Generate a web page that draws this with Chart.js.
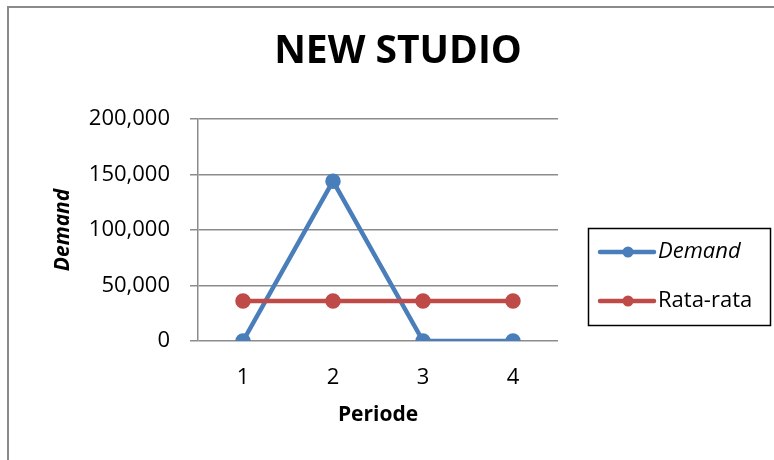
<!DOCTYPE html>
<html>
<head>
<meta charset="utf-8">
<script src="https://cdn.jsdelivr.net/npm/chart.js@4/dist/chart.umd.min.js"></script>
<style>
  html, body { margin: 0; padding: 0; background: #fff; }
  #wrap { width: 774px; height: 460px; position: relative; }
</style>
</head>
<body>
<div id="wrap"><canvas id="c" width="774" height="460"></canvas></div>
<script>
const categories = ['1', '2', '3', '4'];
const demandValues = [0, 144000, 0, 0];
const rataRataValues = [36000, 36000, 36000, 36000];
const seriesNames = ['Demand', 'Rata-rata'];
const chartTitle = 'NEW STUDIO';
const xTitle = 'Periode';
const yTitle = 'Demand';

const FONT = "'Open Sans', 'Liberation Sans', sans-serif";
const BLUE = '#4a7ebb';
const RED = '#be4b48';

const frameAndLegend = {
  id: 'frameAndLegend',
  afterDraw(chart) {
    const ctx = chart.ctx;
    ctx.save();
    // outer chart border
    ctx.strokeStyle = '#8a8a8a';
    ctx.lineWidth = 2;
    ctx.strokeRect(8, 7, 800, 500);
    // chart title
    ctx.fillStyle = '#000';
    ctx.font = 'bold 39px ' + FONT;
    ctx.textAlign = 'center';
    ctx.textBaseline = 'middle';
    ctx.fillText(chartTitle, 398, 52);
    // legend box
    ctx.strokeStyle = '#000';
    ctx.lineWidth = 1.5;
    ctx.strokeRect(588.5, 228.5, 182, 97);
    const rows = [252, 301];
    chart.data.datasets.forEach((ds, i) => {
      const y = rows[i];
      ctx.strokeStyle = ds.borderColor;
      ctx.lineWidth = 4.5;
      ctx.lineCap = 'round';
      ctx.beginPath();
      ctx.moveTo(600, y);
      ctx.lineTo(654, y);
      ctx.stroke();
      ctx.fillStyle = ds.borderColor;
      ctx.beginPath();
      ctx.arc(628, y, 5.5, 0, Math.PI * 2);
      ctx.fill();
      ctx.fillStyle = '#000';
      ctx.font = (i === 0 ? 'italic ' : '') + '22px ' + FONT;
      ctx.textBaseline = 'middle';
      ctx.textAlign = 'left';
      ctx.fillText(ds.label, 658, y);
    });
    ctx.restore();
  }
};

new Chart(document.getElementById('c'), {
  type: 'line',
  data: {
    labels: categories,
    datasets: [
      {
        label: seriesNames[0],
        data: demandValues,
        borderColor: BLUE,
        backgroundColor: BLUE,
        borderWidth: 4.5,
        pointRadius: 5.5,
        pointHoverRadius: 5.5,
        tension: 0,
        order: 1
      },
      {
        label: seriesNames[1],
        data: rataRataValues,
        borderColor: RED,
        backgroundColor: RED,
        borderWidth: 4.5,
        pointRadius: 5.5,
        pointHoverRadius: 5.5,
        tension: 0,
        order: 0
      }
    ]
  },
  options: {
    responsive: false,
    animation: false,
    devicePixelRatio: 1,
    layout: { padding: { left: 8, right: 216, top: 119, bottom: 0 } },
    plugins: {
      legend: { display: false },
      tooltip: { enabled: false },
      title: { display: false }
    },
    scales: {
      x: {
        offset: true,
        afterFit(scale) { scale.height = 119; },
        grid: { display: false, drawTicks: false },
        border: { display: false },
        ticks: { color: '#000', padding: 24, font: { family: FONT, size: 22 } },
        title: {
          display: true,
          text: xTitle,
          color: '#000',
          font: { family: FONT, size: 21, weight: 'bold', lineHeight: 1.2 },
          padding: { top: 0, bottom: 32 }
        }
      },
      y: {
        min: 0,
        max: 200000,
        afterFit(scale) { scale.width = 190; },
        grid: { color: '#8c8c8c', lineWidth: 1.5, tickLength: 8, drawTicks: true },
        border: { display: true, color: '#8c8c8c', width: 1.5 },
        ticks: {
          stepSize: 50000,
          color: '#000',
          padding: 20,
          font: { family: FONT, size: 22 },
          callback: (v) => v.toLocaleString('en-US')
        },
        title: {
          display: true,
          text: yTitle,
          color: '#000',
          font: { family: FONT, size: 21, weight: 'bold', style: 'italic', lineHeight: 1.2 },
          padding: { top: 42, bottom: 0 }
        }
      }
    }
  },
  plugins: [frameAndLegend]
});
</script>
</body>
</html>
